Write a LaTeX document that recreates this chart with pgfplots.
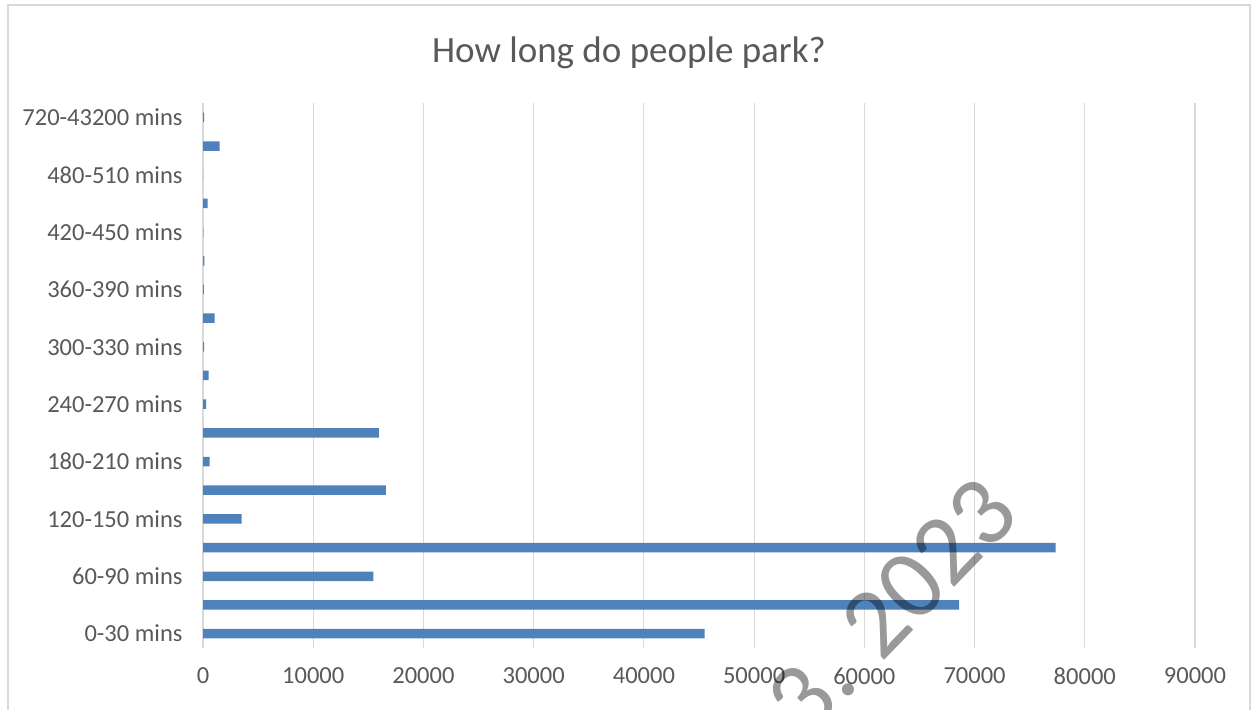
\documentclass[border=0pt]{standalone}
\usepackage{pgfplots}
\pgfplotsset{compat=1.18}
\usepackage{fontspec}
\setmainfont{Carlito}
\definecolor{barblue}{RGB}{79,129,189}
\definecolor{txtgray}{RGB}{89,89,89}
\definecolor{gridgray}{RGB}{217,217,217}
\begin{document}
\begin{tikzpicture}[x=1pt,y=1pt]
\useasboundingbox (0,0) rectangle (1252,709);
\fill[white] (0,0) rectangle (1252,709);
\draw[gridgray, line width=1.2pt] (8,-20) rectangle (1250,704);
\node[txtgray, font=\fontsize{37}{44}\selectfont] at (629,656) {How long do people park?};
\begin{axis}[
  at={(203pt,61pt)}, anchor=south west,
  scale only axis, width=992pt, height=545pt,
  xbar, bar width=9.5pt,
  xmin=0, xmax=90000, xtick={0,10000,...,90000},
  scaled x ticks=false,
  ymin=-0.5, ymax=18.5,
  ytick={0,2,...,18},
  yticklabels={0-30 mins,60-90 mins,120-150 mins,180-210 mins,240-270 mins,300-330 mins,360-390 mins,420-450 mins,480-510 mins,720-43200 mins},
  xmajorgrids, grid style={gridgray, line width=1.2pt},
  axis line style={draw=none},
  major tick length=0pt,
  tick style={draw=none},
  /pgf/number format/1000 sep={},
  /pgf/number format/assume math mode=true,
  ticklabel style={txtgray, font=\fontsize{24.5}{29}\selectfont},
  xticklabel style={yshift=-16pt},
  yticklabel style={xshift=-17pt},
  clip=false,
]
\addplot[fill=barblue, draw=none] coordinates {
(45500,0) (68600,1) (15450,2) (77350,3) (3500,4) (16600,5) (600,6) (15950,7)
(280,8) (520,9) (100,10) (1050,11) (80,12) (120,13) (40,14) (420,15) (0,16) (1500,17) (100,18)
};
\end{axis}
\begin{scope}
\clip (0,0) rectangle (1252,709);
\node[black, opacity=0.4, inner sep=0pt, rotate=46, font=\fontsize{100}{110}\selectfont] at (892,103) {3. 2023};
\end{scope}
\end{tikzpicture}
\end{document}
